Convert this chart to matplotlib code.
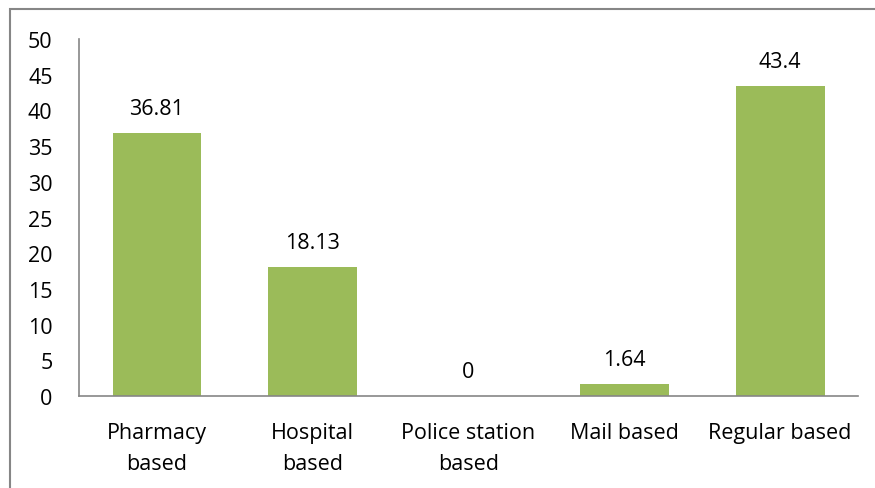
import matplotlib.pyplot as plt
from matplotlib.patches import Rectangle

categories = ['Pharmacy\nbased', 'Hospital\nbased', 'Police station\nbased', 'Mail based', 'Regular based']
values = [36.81, 18.13, 0, 1.64, 43.4]
labels = ['36.81', '18.13', '0', '1.64', '43.4']
yticks = [0, 5, 10, 15, 20, 25, 30, 35, 40, 45, 50]

plt.rcParams['font.family'] = ['Open Sans', 'DejaVu Sans']

fig = plt.figure(figsize=(8.75, 4.89), dpi=100)
ax = fig.add_axes([0.0903, 0.188, 0.8903, 0.730])

x = range(len(categories))
ax.bar(x, values, width=0.57, color='#9BBB59')

for i, (v, t) in enumerate(zip(values, labels)):
    ax.annotate(t, (i, v), xytext=(0, 14), textcoords='offset pixels',
                ha='center', va='bottom', fontsize=15.5)

ax.set_xlim(-0.5, len(categories) - 0.5)
ax.set_ylim(0, 50)
ax.set_yticks(yticks)
ax.set_xticks(list(x))
ax.set_xticklabels(categories, fontsize=15.5, linespacing=1.6)
ax.tick_params(axis='y', length=0, pad=19, labelsize=15.5)
ax.tick_params(axis='x', length=0, pad=19)

for s in ['top', 'right']:
    ax.spines[s].set_visible(False)
for s in ['left', 'bottom']:
    ax.spines[s].set_color('#868686')
    ax.spines[s].set_linewidth(1.2)

# outer chart frame
fig.patches.append(Rectangle((10 / 875, -0.1), 1.1, (489 - 10) / 489 + 0.1,
                             transform=fig.transFigure, fill=False,
                             edgecolor='#868686', linewidth=1.5))

fig.savefig('out.png', dpi=100)
